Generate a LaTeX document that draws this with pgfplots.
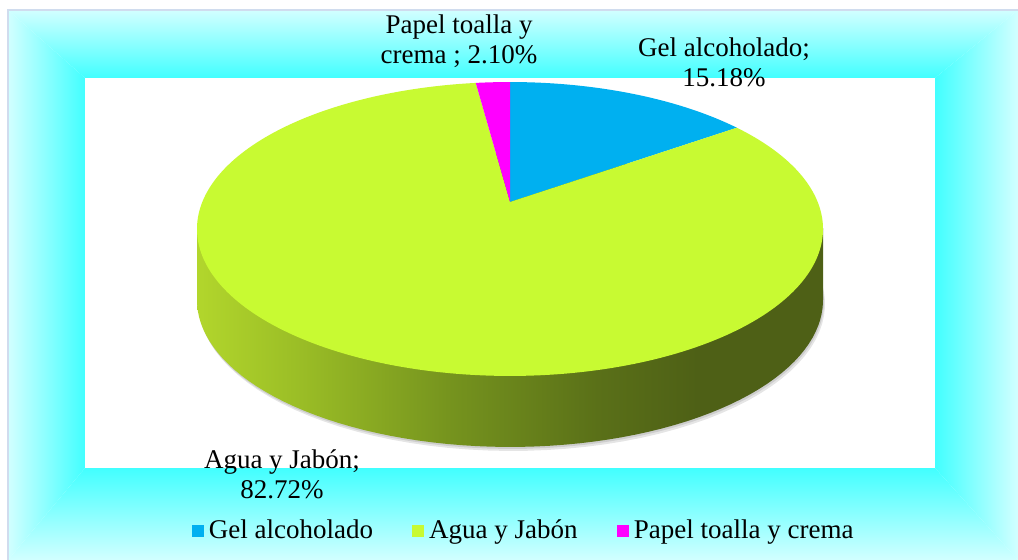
\documentclass[border=0pt]{standalone}
\usepackage{pgfplots}
\pgfplotsset{compat=1.18}
\usepackage{pgfplotstable}
\usepackage{fontspec}
\setmainfont{Liberation Serif}

\definecolor{gelc}{HTML}{00B0F0}
\definecolor{aguac}{HTML}{C8FA32}
\definecolor{papelc}{HTML}{FF00FF}
\definecolor{sideA}{HTML}{B2D62C}
\definecolor{sideB}{HTML}{9BBE26}
\definecolor{sideC}{HTML}{76941E}
\definecolor{sideD}{HTML}{5A7018}
\definecolor{sideE}{HTML}{4E6016}
\definecolor{framec}{HTML}{D0DCEE}
\definecolor{glowin}{HTML}{42FFFF}
\definecolor{glowout}{HTML}{D2FFFF}

\pgfdeclarehorizontalshading{sideshade}{100bp}{color(0bp)=(sideA); color(25bp)=(sideA); color(33bp)=(sideB); color(45bp)=(sideC); color(57bp)=(sideD); color(65bp)=(sideE); color(100bp)=(sideE)}

\pgfplotstableread{
label value
Gel 15.18
Agua 82.72
Papel 2.10
}\piedata
\pgfplotstablegetelem{0}{value}\of\piedata \let\vGel\pgfplotsretval
\pgfplotstablegetelem{1}{value}\of\piedata \let\vAgua\pgfplotsretval
\pgfplotstablegetelem{2}{value}\of\piedata \let\vPapel\pgfplotsretval
\pgfmathsetmacro\aGel{90-3.6*\vGel}
\pgfmathsetmacro\aAgua{\aGel-3.6*\vAgua}
\pgfmathsetmacro\aPapel{\aAgua-3.6*\vPapel}

\newcommand\labfont{\fontsize{13.5}{15}\selectfont}

\begin{document}
\begin{tikzpicture}
\begin{axis}[
  x=0.5pt, y=0.5pt, y dir=reverse,
  xmin=0, xmax=1018, ymin=0, ymax=560,
  hide axis, clip=false,
  declare function={px(\t)=510+307.7*cos(\t)/(1+0.1837*sin(\t));
                    py(\t)=202-142*sin(\t)/(1+0.1837*sin(\t));},
  legend columns=3,
  legend style={at={(axis description cs:0.516,0.052)}, anchor=center,
    draw=none, fill=none, font=\labfont,
    /tikz/every even column/.append style={column sep=17pt},
    nodes={inner sep=2.6pt}},
  legend image code/.code={\fill[#1] (0pt,-2.75pt) rectangle (5.5pt,2.75pt);},
]
% background gradient frame
\fill[white] (axis cs:0,0) rectangle (axis cs:1018,560);
\shade[top color=glowout, bottom color=glowin] (axis cs:8,10) -- (axis cs:1018,10) -- (axis cs:935,78) -- (axis cs:85,78) -- cycle;
\shade[bottom color=glowout, top color=glowin] (axis cs:8,560) -- (axis cs:1018,560) -- (axis cs:935,468) -- (axis cs:85,468) -- cycle;
\shade[left color=glowout, right color=glowin] (axis cs:8,10) -- (axis cs:85,78) -- (axis cs:85,468) -- (axis cs:8,560) -- cycle;
\shade[right color=glowout, left color=glowin] (axis cs:1018,10) -- (axis cs:935,78) -- (axis cs:935,468) -- (axis cs:1018,560) -- cycle;
\draw[framec, line width=1pt] (axis cs:8,562) -- (axis cs:8,10) -- (axis cs:1020,10);
\fill[white] (axis cs:85,78) rectangle (axis cs:935,468);

% shadow
\addplot[forget plot, fill=black, opacity=0.10, draw=none, domain=0:360, samples=120, variable=\t] ({px(\t)+2},{py(\t)+75}) -- cycle;
\addplot[forget plot, fill=black, opacity=0.10, draw=none, domain=0:360, samples=120, variable=\t] ({px(\t)+1},{py(\t)+73}) -- cycle;
% side of the pie
\addplot[forget plot, draw=none, shade, shading=sideshade, domain=0:360, samples=160, variable=\t] ({px(\t)},{py(\t)+71}) -- cycle;
\addplot[forget plot, draw=none, shade, shading=sideshade] coordinates {(197,229) (823,229) (823,300) (197,300)} -- cycle;

% top slices
\addplot[forget plot, fill=gelc, draw=none, domain=\aGel:90, samples=60, variable=\t] ({px(\t)},{py(\t)}) -- (axis cs:510,202) -- cycle;
\addplot[forget plot, fill=aguac, draw=none, domain=\aAgua:\aGel, samples=240, variable=\t] ({px(\t)},{py(\t)}) -- (axis cs:510,202) -- cycle;
\addplot[forget plot, fill=papelc, draw=none, domain=\aPapel:\aAgua, samples=20, variable=\t] ({px(\t)},{py(\t)}) -- (axis cs:510,202) -- cycle;

% data labels
\node[align=center, font=\labfont] at (axis cs:459,41) {Papel toalla y\\crema ; 2.10\%};
\node[align=center, font=\labfont] at (axis cs:724,62) {Gel alcoholado;\\15.18\%};
\node[align=center, font=\labfont] at (axis cs:282,474) {Agua y Jabón;\\82.72\%};

% legend
\addlegendimage{gelc}
\addlegendentry{Gel alcoholado}
\addlegendimage{aguac}
\addlegendentry{Agua y Jabón}
\addlegendimage{papelc}
\addlegendentry{Papel toalla y crema}
\end{axis}
\pgfresetboundingbox
\useasboundingbox (current axis.south west) rectangle (current axis.north east);
\end{tikzpicture}
\end{document}
